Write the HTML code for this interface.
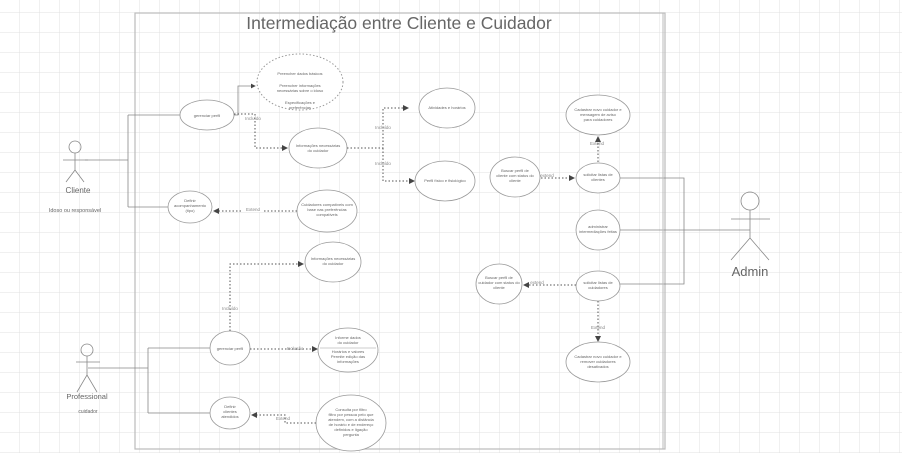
<!DOCTYPE html>
<html><head><meta charset="utf-8"><style>
html,body{margin:0;padding:0;background:#fff}
svg{display:block}
text{font-family:"Liberation Sans",sans-serif;fill:#666}
.t{font-size:4px;text-anchor:middle}
.l{font-size:4.5px;fill:#888;text-anchor:middle}
.e{fill:#fff;stroke:#999;stroke-width:0.8}
.s{stroke:#888;stroke-width:0.8;fill:none}
.d{stroke:#555;stroke-width:1;fill:none;stroke-dasharray:1.5 2}
</style></head><body>
<svg width="902" height="453" viewBox="0 0 902 453" xmlns="http://www.w3.org/2000/svg">
<defs>
<pattern id="g" width="20" height="20" patternUnits="userSpaceOnUse" x="0" y="13">
<path d="M20 0V20M0 20H20" stroke="#e0e0e0" stroke-width="1" fill="none"/></pattern>
<marker id="a" markerWidth="6" markerHeight="6" refX="5" refY="3" orient="auto"><path d="M0,0L6,3L0,6z" fill="#444"/></marker>
</defs>
<rect width="902" height="453" fill="url(#g)"/>
<rect x="135" y="13" width="530" height="436" fill="none" stroke="#bbb" stroke-width="1.2"/>
<text x="399" y="29" font-size="17.5" text-anchor="middle" fill="#555">Intermediação entre Cliente e Cuidador</text>

<!-- Cliente actor -->
<g class="s" stroke="#888"><circle cx="75" cy="147" r="6"/><path d="M75 153V170M63 160H88M75 170L66 182M75 170L84 182"/></g>
<text x="78" y="193" font-size="8" text-anchor="middle">Cliente</text>
<text x="75" y="212" font-size="5.5" text-anchor="middle">Idoso ou responsável</text>
<path class="s" d="M85 160H128M128 115V207M128 115H180M128 207H168"/>

<ellipse class="e" cx="207" cy="115" rx="27" ry="15"/><text class="t" x="207" y="117">gerenciar perfil</text>
<ellipse cx="300" cy="82" rx="43" ry="28" fill="#fff" stroke="#999" stroke-dasharray="1.5 2"/>
<text class="t" x="300" y="75">Preencher dados básicos</text><text class="t" x="300" y="87">Preencher informações</text><text class="t" x="300" y="92">necessárias sobre o idoso</text><text class="t" x="300" y="104">Especificações e</text><text class="t" x="300" y="109">preferências</text>
<path class="s" stroke="#555" d="M234 115H238V86H255" marker-end="url(#a)"/>
<path class="d" d="M234 114H255V148H287" marker-end="url(#a)"/><text class="l" x="253" y="120">Incluído</text>
<ellipse class="e" cx="318" cy="148" rx="29" ry="20"/><text class="t" x="318" y="147">Informações necessárias</text><text class="t" x="318" y="152">do cuidador</text>
<path class="d" d="M347 148H383V108H408" marker-end="url(#a)"/>
<path class="d" d="M383 148V181H414" marker-end="url(#a)"/>
<text class="l" x="383" y="129">Incluído</text><text class="l" x="383" y="165">Incluído</text>
<ellipse class="e" cx="447" cy="108" rx="28" ry="20"/><text class="t" x="447" y="109">Atividades e horários</text>
<ellipse class="e" cx="445" cy="181" rx="30" ry="20"/><text class="t" x="445" y="182">Perfil físico e fisiológico</text>
<ellipse class="e" cx="190" cy="207" rx="22" ry="16"/><text class="t" x="190" y="202">Definir</text><text class="t" x="190" y="207">acompanhamento</text><text class="t" x="190" y="212">(tipo)</text>
<ellipse class="e" cx="327" cy="211" rx="30" ry="21"/><text class="t" x="327" y="206">Cuidadores compatíveis com</text><text class="t" x="327" y="211">base nas preferências</text><text class="t" x="327" y="216">compatíveis</text>
<path class="d" d="M297 211H214" marker-end="url(#a)"/><rect x="243" y="206" width="20" height="6" fill="#fff"/><text class="l" x="253" y="211">Extend</text>

<!-- Right/admin -->
<ellipse class="e" cx="598" cy="115" rx="32" ry="20"/><text class="t" x="598" y="111">Cadastrar novo cuidador e</text><text class="t" x="598" y="116">mensagem de aviso</text><text class="t" x="598" y="121">para cuidadores</text>
<path class="d" d="M598 162V137" marker-end="url(#a)"/><text class="l" x="597" y="145">Extend</text>
<ellipse class="e" cx="598" cy="178" rx="22" ry="15"/><text class="t" x="598" y="176">solicitar listas de</text><text class="t" x="598" y="181">clientes</text>
<ellipse class="e" cx="515" cy="177" rx="25" ry="20"/><text class="t" x="515" y="172">Buscar perfil de</text><text class="t" x="515" y="177">cliente com status do</text><text class="t" x="515" y="182">cliente</text>
<path class="d" d="M541 178H574" marker-end="url(#a)"/><text class="l" x="547" y="177">extend</text>
<ellipse class="e" cx="598" cy="230" rx="22" ry="20"/><text class="t" x="598" y="228">administrar</text><text class="t" x="598" y="233">intermediações feitas</text>
<ellipse class="e" cx="598" cy="286" rx="22" ry="15"/><text class="t" x="598" y="284">solicitar listas de</text><text class="t" x="598" y="289">cuidadores</text>
<ellipse class="e" cx="499" cy="284" rx="23" ry="20"/><text class="t" x="499" y="279">Buscar perfil de</text><text class="t" x="499" y="284">cuidador com status do</text><text class="t" x="499" y="289">cliente</text>
<path class="d" d="M576 285H524" marker-end="url(#a)"/><text class="l" x="537" y="284">extend</text>
<path class="d" d="M598 301V341" marker-end="url(#a)"/><text class="l" x="598" y="329">Extend</text>
<ellipse class="e" cx="598" cy="362" rx="32" ry="20"/><text class="t" x="598" y="358">Cadastrar novo cuidador e</text><text class="t" x="598" y="363">remover cuidadores</text><text class="t" x="598" y="368">desativados</text>
<path class="s" d="M620 178H684V284H620M620 230H750"/>
<path d="M663 13V449" stroke="#bbb" stroke-width="1"/>
<g class="s" stroke="#888"><circle cx="750" cy="201" r="9"/><path d="M750 210V238M731 219H770M750 238L731 260M750 238L769 260"/></g>
<text x="750" y="276" font-size="13" text-anchor="middle" fill="#555">Admin</text>

<!-- Professional -->
<g class="s" stroke="#888"><circle cx="87" cy="350" r="6"/><path d="M87 356V375M76 362H100M87 375L77 392M87 375L97 392"/></g>
<text x="87" y="399" font-size="7.5" text-anchor="middle">Professional</text>
<text x="88" y="413" font-size="5" text-anchor="middle">cuidador</text>
<path class="s" d="M88 368H148M148 348V413M148 348H210M148 413H210"/>
<ellipse class="e" cx="230" cy="348" rx="20" ry="17"/><text class="t" x="230" y="350">gerenciar perfil</text>
<ellipse class="e" cx="230" cy="413" rx="20" ry="16"/><text class="t" x="230" y="408">Definir</text><text class="t" x="230" y="413">clientes</text><text class="t" x="230" y="418">atendidos</text>
<path class="d" d="M230 331V264H303" marker-end="url(#a)"/><text class="l" x="230" y="310">Incluído</text>
<ellipse class="e" cx="333" cy="262" rx="28" ry="20"/><text class="t" x="333" y="260">Informações necessárias</text><text class="t" x="333" y="265">do cuidador</text>
<path class="d" d="M250 349H317" marker-end="url(#a)"/><text class="l" x="295" y="350">Inclusão</text>
<ellipse class="e" cx="348" cy="350" rx="30" ry="22"/><text class="t" x="348" y="339">Informe dados</text><text class="t" x="348" y="344">do cuidador</text><path d="M320 348H376" stroke="#999" stroke-width=".6"/><text class="t" x="348" y="353">Horários e valores</text><text class="t" x="348" y="358">Permite edição das</text><text class="t" x="348" y="363">informações</text>
<ellipse class="e" cx="351" cy="423" rx="35" ry="28"/><text class="t" x="351" y="411">Consulta por filtro</text><text class="t" x="351" y="416">filtro por pessoa pelo que</text><text class="t" x="351" y="421">atendem, com a distância</text><text class="t" x="351" y="426">de horário e de endereço</text><text class="t" x="351" y="431">definidos e ligação</text><text class="t" x="351" y="436">pergunta</text>
<path class="d" d="M316 423H285V415H252" marker-end="url(#a)"/><text class="l" x="283" y="420">Extend</text>
</svg>
</body></html>
